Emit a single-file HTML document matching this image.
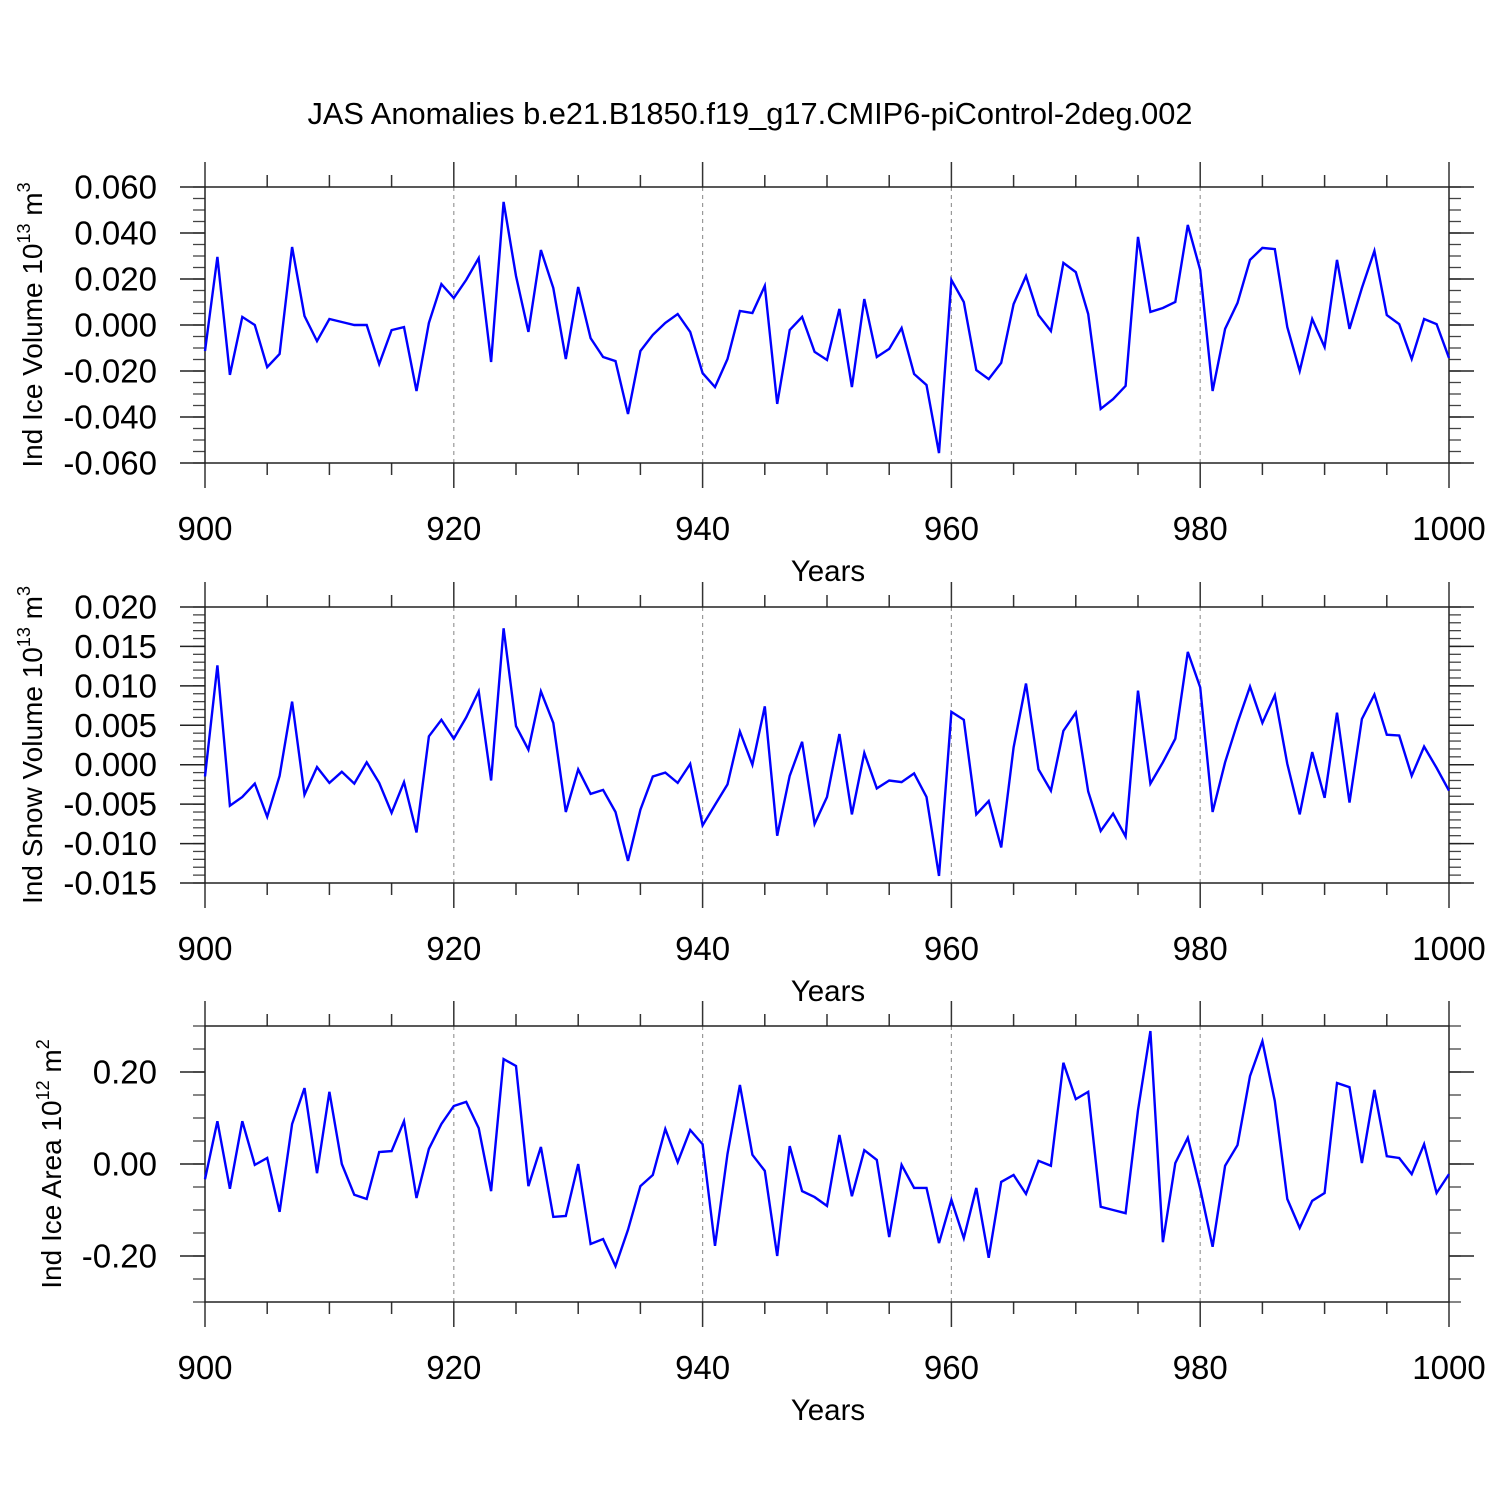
<!DOCTYPE html>
<html><head><meta charset="utf-8"><style>
html,body{margin:0;padding:0;background:#fff;}
svg{display:block;font-family:"Liberation Sans",sans-serif;}
</style></head><body>
<svg id="chart" width="1500" height="1500" viewBox="0 0 1500 1500" xmlns="http://www.w3.org/2000/svg">
<rect width="1500" height="1500" fill="#fff"/>
<text x="750" y="124" text-anchor="middle" font-size="30.8">JAS Anomalies b.e21.B1850.f19_g17.CMIP6-piControl-2deg.002</text>
</svg>
<script>
const years = [];
for (let y = 900; y <= 1000; y++) years.push(y);
const iceVolume = [-0.0113,0.0296,-0.0217,0.0035,0,-0.0183,-0.0126,0.0339,0.0039,-0.0070,0.0026,0.0013,0,0,-0.0170,-0.0022,-0.0009,-0.0287,0.0009,0.0178,0.0117,0.0196,0.0291,-0.0161,0.0535,0.0213,-0.0030,0.0326,0.0161,-0.0148,0.0165,-0.0057,-0.0139,-0.0157,-0.0387,-0.0113,-0.0043,0.0009,0.0048,-0.0030,-0.0209,-0.0270,-0.0148,0.0061,0.0052,0.0170,-0.0343,-0.0022,0.0035,-0.0117,-0.0152,0.0070,-0.0270,0.0113,-0.0139,-0.0104,-0.0013,-0.0213,-0.0261,-0.0557,0.0196,0.0100,-0.0196,-0.0235,-0.0165,0.0091,0.0213,0.0043,-0.0026,0.0270,0.0230,0.0048,-0.0365,-0.0322,-0.0265,0.0383,0.0057,0.0074,0.0100,0.0435,0.0239,-0.0287,-0.0017,0.0096,0.0283,0.0335,0.0330,-0.0009,-0.0200,0.0026,-0.0096,0.0283,-0.0017,0.0161,0.0322,0.0043,0.0004,-0.0148,0.0026,0.0004,-0.0143];
const snowVolume = [-0.0015,0.0126,-0.0052,-0.0041,-0.0024,-0.0066,-0.0014,0.0080,-0.0038,-0.0003,-0.0023,-0.0009,-0.0024,0.0003,-0.0023,-0.0061,-0.0022,-0.0086,0.0036,0.0057,0.0033,0.0060,0.0093,-0.0020,0.0173,0.0049,0.0019,0.0093,0.0053,-0.0060,-0.0006,-0.0037,-0.0032,-0.0060,-0.0122,-0.0057,-0.0015,-0.0010,-0.0023,0.0001,-0.0077,-0.0051,-0.0025,0.0042,0,0.0074,-0.0090,-0.0014,0.0029,-0.0075,-0.0041,0.0039,-0.0063,0.0015,-0.0030,-0.0020,-0.0022,-0.0011,-0.0041,-0.0141,0.0067,0.0057,-0.0063,-0.0046,-0.0105,0.0022,0.0103,-0.0006,-0.0033,0.0043,0.0066,-0.0034,-0.0084,-0.0062,-0.0091,0.0094,-0.0024,0.0003,0.0033,0.0143,0.0098,-0.0060,0.0003,0.0053,0.0099,0.0053,0.0088,0.0001,-0.0063,0.0016,-0.0042,0.0066,-0.0048,0.0058,0.0089,0.0038,0.0037,-0.0014,0.0023,-0.0004,-0.0033];
const iceArea = [-0.033,0.093,-0.054,0.093,-0.002,0.013,-0.104,0.087,0.165,-0.020,0.157,0,-0.067,-0.076,0.026,0.028,0.093,-0.074,0.033,0.087,0.126,0.135,0.078,-0.059,0.228,0.213,-0.048,0.037,-0.115,-0.113,0,-0.174,-0.163,-0.222,-0.143,-0.048,-0.024,0.076,0.004,0.074,0.043,-0.178,0.022,0.172,0.020,-0.015,-0.200,0.039,-0.059,-0.072,-0.091,0.063,-0.070,0.030,0.009,-0.159,-0.002,-0.052,-0.052,-0.172,-0.078,-0.161,-0.052,-0.204,-0.039,-0.024,-0.065,0.007,-0.004,0.220,0.141,0.157,-0.093,-0.100,-0.107,0.117,0.289,-0.170,0.002,0.057,-0.054,-0.180,-0.004,0.041,0.191,0.267,0.137,-0.076,-0.139,-0.080,-0.063,0.176,0.167,0.002,0.161,0.017,0.013,-0.022,0.043,-0.063,-0.022];
const xTickLabels = [900,920,940,960,980,1000];
const iceVolumeTicks = [0.06,0.04,0.02,0,-0.02,-0.04,-0.06];
const snowVolumeTicks = [0.02,0.015,0.01,0.005,0,-0.005,-0.01,-0.015];
const iceAreaTicks = [0.2,0,-0.2];

const NS = "http://www.w3.org/2000/svg";
const svg = document.getElementById('chart');
const XL = 205, XR = 1449;
function xs(v){ return XL + (v - 900) / 100 * (XR - XL); }
function mk(tag, attrs, parent){
  const e = document.createElementNS(NS, tag);
  for (const k in attrs) e.setAttribute(k, attrs[k]);
  (parent || svg).appendChild(e);
  return e;
}
const panels = [
  {name:'ice-volume', data:iceVolume, ticks:iceVolumeTicks, ymin:-0.06, ymax:0.06, minor:0.005, dec:3, top:187, bot:463, title:'Ind Ice Volume 10', sup:'13', unit:'m', usup:'3', tx:33},
  {name:'snow-volume', data:snowVolume, ticks:snowVolumeTicks, ymin:-0.015, ymax:0.02, minor:0.001, dec:3, top:607, bot:883, title:'Ind Snow Volume 10', sup:'13', unit:'m', usup:'3', tx:33},
  {name:'ice-area', data:iceArea, ticks:iceAreaTicks, ymin:-0.3, ymax:0.3, minor:0.05, dec:2, top:1026, bot:1302, title:'Ind Ice Area 10', sup:'12', unit:'m', usup:'2', tx:52}
];
panels.forEach(p => {
  const g = mk('g', {});
  
  
  const ys = v => p.bot - (v - p.ymin) / (p.ymax - p.ymin) * (p.bot - p.top);
  [920,940,960,980].forEach(x => {
    const l = mk('line', {x1:xs(x), x2:xs(x), y1:p.top, y2:p.bot, stroke:'#999', 'stroke-width':1.2, 'stroke-dasharray':'4,4'}, g);
    
    
  });
  for (let x = 900; x <= 1000; x += 5) {
    const len = (x % 20 === 0) ? 25 : 12;
    mk('line', {x1:xs(x), x2:xs(x), y1:p.top, y2:p.top - len, stroke:'#333', 'stroke-width':1.5}, g);
    mk('line', {x1:xs(x), x2:xs(x), y1:p.bot, y2:p.bot + len, stroke:'#333', 'stroke-width':1.5}, g);
  }
  const n = Math.round((p.ymax - p.ymin) / p.minor);
  for (let i = 0; i <= n; i++) {
    const v = p.ymin + i * p.minor;
    mk('line', {x1:XL, x2:XL - 12, y1:ys(v), y2:ys(v), stroke:'#444', 'stroke-width':1.3}, g);
    mk('line', {x1:XR, x2:XR + 12, y1:ys(v), y2:ys(v), stroke:'#444', 'stroke-width':1.3}, g);
  }
  p.ticks.forEach(v => {
    mk('line', {x1:XL, x2:XL - 25, y1:ys(v), y2:ys(v), stroke:'#222', 'stroke-width':1.5}, g);
    mk('line', {x1:XR, x2:XR + 25, y1:ys(v), y2:ys(v), stroke:'#222', 'stroke-width':1.5}, g);
    const t = mk('text', {x:157, y:ys(v) + 11.5, 'text-anchor':'end', 'font-size':33}, g);
    
    
    t.textContent = v.toFixed(p.dec).replace(/^-?0\.0+$/, (0).toFixed(p.dec));
  });
  const fr = mk('rect', {x:XL, y:p.top, width:XR - XL, height:p.bot - p.top, fill:'none', stroke:'#222', 'stroke-width':1.5}, g);
  
  
  xTickLabels.forEach(x => {
    const t = mk('text', {x:xs(x), y:p.bot + 77, 'text-anchor':'middle', 'font-size':33}, g);
    
    
    t.textContent = x;
  });
  const xt = mk('text', {x:828, y:p.bot + 118, 'text-anchor':'middle', 'font-size':29.5}, g);
  
  
  xt.textContent = 'Years';
  const cy = (p.top + p.bot) / 2;
  const yt = mk('text', {x:0, y:0, 'text-anchor':'middle', 'font-size':28, transform:`translate(${p.tx + 9},${cy}) rotate(-90)`}, g);
  
  
  const s1 = mk('tspan', {}, yt); s1.textContent = p.title;
  const s2 = mk('tspan', {dy:-12, 'font-size':18}, yt); s2.textContent = p.sup;
  const s3 = mk('tspan', {dy:12}, yt); s3.textContent = ' ' + p.unit;
  const s4 = mk('tspan', {dy:-12, 'font-size':18}, yt); s4.textContent = p.usup;
  const pts = p.data.map((v, i) => xs(years[i]).toFixed(1) + ',' + ys(v).toFixed(1)).join(' ');
  const line = mk('polyline', {points:pts, fill:'none', stroke:'#0000ff', 'stroke-width':2.4, 'stroke-linejoin':'miter'}, g);
  
  
});
</script>
</body></html>
